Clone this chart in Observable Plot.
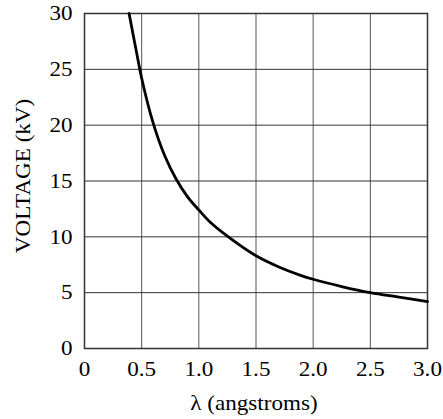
<!DOCTYPE html>
<html>
<head>
<meta charset="utf-8">
<script src="https://cdn.jsdelivr.net/npm/d3@7"></script>
<script src="https://cdn.jsdelivr.net/npm/@observablehq/plot@0.6"></script>
<style>
  html, body { margin: 0; padding: 0; background: #fff; overflow: hidden; }
  #chart svg { max-width: none !important; }
  #chart svg text { font-family: "Liberation Serif", "Times New Roman", serif !important; font-size: 21px !important; }
</style>
</head>
<body>
<div id="chart"></div>
<script>
// Wavelength (angstroms) and voltage (kV)
const lambda  = [0.39, 0.45, 0.50, 0.60, 0.70, 0.80, 0.90, 1.00, 1.10, 1.27, 1.50, 1.70, 1.89, 2.00, 2.25, 2.50, 2.75, 3.00];
const voltage = [30,   26.8, 24.2, 20.2, 17.3, 15.2, 13.6, 12.4, 11.3, 9.9,  8.3,  7.3,  6.55, 6.2,  5.55, 5.0,  4.6,  4.2];

const xTicks = [0, 0.5, 1.0, 1.5, 2.0, 2.5, 3.0];
const xTickLabels = ["0", "0.5", "1.0", "1.5", "2.0", "2.5", "3.0"];
const yTicks = [0, 5, 10, 15, 20, 25, 30];
const yTickLabels = ["0", "5", "10", "15", "20", "25", "30"];
const xTitle = "λ (angstroms)";
const yTitle = "VOLTAGE (kV)";

const data = lambda.map((l, i) => ({l, v: voltage[i]}));
const font = {fontSize: 21};

const chart = Plot.plot({
  width: 443,
  height: 419,
  marginLeft: 84,
  marginRight: 16,
  marginTop: 13,
  marginBottom: 71,
  style: {fontFamily: "'Liberation Serif', 'Times New Roman', serif", fontSize: "21px", color: "#000", background: "#fff"},
  x: {domain: [0, 3]},
  y: {domain: [0, 30]},
  marks: [
    Plot.gridX(xTicks.slice(1, -1), {stroke: "#555", strokeOpacity: 1, strokeWidth: 1}),
    Plot.gridY(yTicks.slice(1, -1), {stroke: "#333", strokeOpacity: 1, strokeWidth: 1}),
    Plot.frame({stroke: "#333", strokeWidth: 1.5}),
    Plot.axisX(xTicks, {tickSize: 0, tickPadding: 13, tickFormat: (d, i) => xTickLabels[i], label: null, fill: "#000", ...font}),
    Plot.axisY(yTicks, {tickSize: 0, tickPadding: 12, tickFormat: (d, i) => yTickLabels[i], label: null, fill: "#000", ...font}),
    Plot.line(data, {x: "l", y: "v", curve: "catmull-rom", stroke: "#000", strokeWidth: 2.8}),
    Plot.text([xTitle], {frameAnchor: "bottom", textAnchor: "middle", lineAnchor: "top", dx: -2, dy: 47, fill: "#000", ...font}),
    Plot.text([yTitle], {frameAnchor: "left", textAnchor: "middle", rotate: -90, lineAnchor: "middle", dx: -61, dy: -5, fill: "#000", ...font})
  ]
});
document.getElementById("chart").appendChild(chart);

// The reference typeface is about 10% wider than Liberation Serif: widen glyphs to match.
chart.querySelectorAll("text").forEach((t) => {
  const len = t.getComputedTextLength();
  if (len > 0) {
    t.setAttribute("textLength", (len * 1.1).toFixed(2));
    t.setAttribute("lengthAdjust", "spacingAndGlyphs");
  }
});
</script>
</body>
</html>
